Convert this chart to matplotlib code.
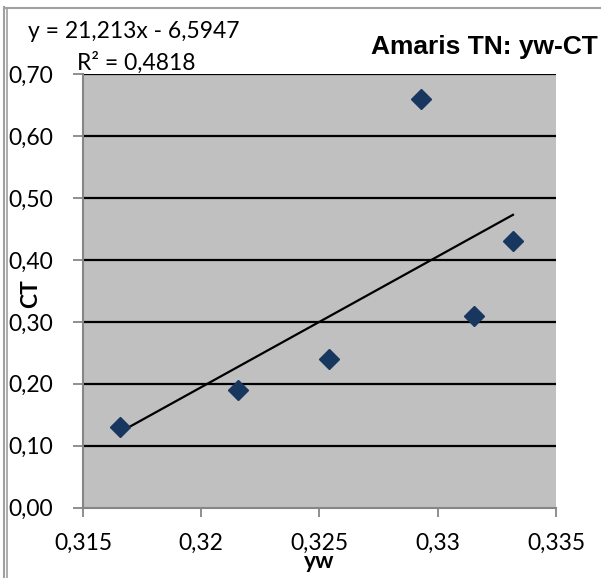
import matplotlib
matplotlib.use("Agg")
import matplotlib.pyplot as plt
import numpy as np
from matplotlib.lines import Line2D

# data
yw = [0.31656, 0.32157, 0.32541, 0.32928, 0.33152, 0.33318]
ct = [0.13, 0.19, 0.24, 0.66, 0.31, 0.43]
x_ticks = [0.315, 0.32, 0.325, 0.33, 0.335]
x_tick_labels = ["0,315", "0,32", "0,325", "0,33", "0,335"]
y_ticks = [0.0, 0.1, 0.2, 0.3, 0.4, 0.5, 0.6, 0.7]
y_tick_labels = ["0,00", "0,10", "0,20", "0,30", "0,40", "0,50", "0,60", "0,70"]
title = "Amaris TN: yw-CT"
eq_text = "y = 21,213x - 6,5947"
r2_text = "R² = 0,4818"

W, H = 601, 578
fig = plt.figure(figsize=(W / 100, H / 100), dpi=100)
fig.patch.set_facecolor("white")

ax = fig.add_axes([83 / W, 1 - 507.6 / H, (556 - 83) / W, (507.6 - 74.3) / H])
ax.set_facecolor("#C0C0C0")
ax.set_xlim(0.315, 0.335)
ax.set_ylim(0.0, 0.7)

for yv in y_ticks[1:]:
    ax.axhline(yv, color="black", lw=1.6, zorder=1)

# trendline
coef = np.polyfit(yw, ct, 1)
xs = np.array([min(yw), max(yw)])
ax.plot(xs, np.polyval(coef, xs), color="black", lw=1.6, zorder=2)

ax.plot(yw, ct, linestyle="none", marker="D", ms=10, color="#17375E",
        markeredgecolor="#17375E", zorder=3)

for s in ["top", "right"]:
    ax.spines[s].set_visible(False)
for s in ["left", "bottom"]:
    ax.spines[s].set_color("#868686")
    ax.spines[s].set_linewidth(1.5)

tickfont = dict(family="Lato", size=16.5)
ax.set_xticks(x_ticks)
ax.set_xticklabels(x_tick_labels, **tickfont)
ax.set_yticks(y_ticks)
ax.set_yticklabels(y_tick_labels, **tickfont)
ax.tick_params(axis="y", direction="out", length=7.5, width=1.3, color="#868686", pad=14)
ax.tick_params(axis="x", direction="out", length=6.5, width=1.3, color="#868686", pad=12)

ax.set_xlabel("yw", family="Lato", size=16.5, weight="bold")
ax.xaxis.set_label_coords(0.5, -0.101)
ax.set_ylabel("CT", family="Lato", size=16.5, weight="bold")
ax.yaxis.set_label_coords(-0.088, 0.493)

fig.text(598 / W, 1 - 54 / H, title, family="Liberation Sans", weight="bold",
         size=19, ha="right", va="baseline")
fig.text(28 / W, 1 - 38 / H, eq_text, family="Lato", size=16.5, ha="left", va="baseline")
fig.text(77 / W, 1 - 70 / H, r2_text, family="Lato", size=16.5, ha="left", va="baseline")

# outer chart frame (partially visible)
fig.add_artist(Line2D([3.5 / W, 3.5 / W], [0, 1 - 7 / H], transform=fig.transFigure,
                      color="#A0A0A0", lw=1.5))
fig.add_artist(Line2D([6.5 / W, 6.5 / W], [0, 1 - 8 / H], transform=fig.transFigure,
                      color="#A0A0A0", lw=1.2))
fig.add_artist(Line2D([3.5 / W, 1], [1 - 7.5 / H, 1 - 7.5 / H], transform=fig.transFigure,
                      color="#A0A0A0", lw=1.5))

fig.savefig("out.png", dpi=100, facecolor="white")
